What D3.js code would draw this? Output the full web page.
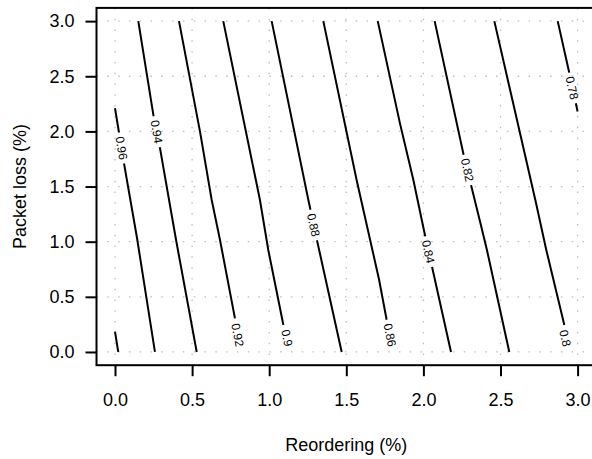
<!DOCTYPE html>
<html>
<head>
<meta charset="utf-8">
<script src="https://cdn.jsdelivr.net/npm/d3@7"></script>
<style>
  body { margin: 0; background: #fff; }
  svg { display: block; font-family: "Liberation Sans", Arial, Helvetica, sans-serif; }
</style>
</head>
<body>
<svg id="chart" width="592" height="459"></svg>
<script>
// Axis ticks
const xTicks = [0, 0.5, 1, 1.5, 2, 2.5, 3];
const yTicks = [0, 0.5, 1, 1.5, 2, 2.5, 3];

// Contour levels and their traced paths ([reordering, packet loss])
const levels = [0.98, 0.96, 0.94, 0.92, 0.9, 0.88, 0.86, 0.84, 0.82, 0.8, 0.78];
const levelText = ["0.98", "0.96", "0.94", "0.92", "0.9", "0.88", "0.86", "0.84", "0.82", "0.8", "0.78"];

const contourPaths = [
  [[0.000, 0.184], [0.021, 0.0]],
  [[0.000, 2.21], [0.060, 1.696], [0.143, 1.031], [0.259, 0.0]],
  [[0.151, 3.0], [0.249, 2.148], [0.292, 1.846], [0.396, 1.015], [0.530, 0.0]],
  [[0.415, 3.0], [0.551, 2.0], [0.627, 1.378], [0.681, 1.015], [0.778, 0.305]],
  [[0.702, 3.0], [0.940, 1.378], [0.994, 0.925], [1.092, 0.245]],
  [[1.016, 3.0], [1.254, 1.378], [1.312, 1.0], [1.470, 0.0]],
  [[1.351, 3.0], [1.567, 1.559], [1.713, 0.653], [1.762, 0.290]],
  [[1.704, 3.0], [1.848, 2.073], [1.935, 1.559], [2.010, 1.061], [2.075, 0.653], [2.179, 0.0]],
  [[2.073, 3.0], [2.261, 1.786], [2.378, 1.121], [2.412, 0.925], [2.557, 0.0]],
  [[2.460, 3.0], [2.726, 1.378], [2.797, 0.925], [2.914, 0.245]],
  [[2.871, 3.0], [2.942, 2.557], [3.0, 2.18]]
];

// Where each level's label sits (null = no label)
const labelAt = [
  null,
  [0.042, 1.849],
  [0.270, 1.997],
  [0.795, 0.154],
  [1.115, 0.127],
  [1.287, 1.151],
  [1.783, 0.154],
  [2.032, 0.909],
  [2.285, 1.650],
  [2.920, 0.124],
  [2.964, 2.393]
];

const svg = d3.select("#chart");

// R style plot region: data range padded by 4%
const xScale = d3.scaleLinear().domain([-0.12, 3.12]).range([96.5, 596.1]);
const yScale = d3.scaleLinear().domain([-0.12, 3.12]).range([365.2, 7.9]);

const x0 = xScale(-0.12), x1 = xScale(3.12);
const y0 = yScale(-0.12), y1 = yScale(3.12);

// Dotted grid
const grid = svg.append("g")
  .attr("stroke", "#bdbdbd")
  .attr("stroke-width", 1.3)
  .attr("stroke-dasharray", "1.5,9.3");

grid.selectAll("line.gx")
  .data(xTicks)
  .enter()
  .append("line")
  .attr("x1", d => xScale(d)).attr("x2", d => xScale(d))
  .attr("y1", y1).attr("y2", y0);

grid.selectAll("line.gy")
  .data(yTicks)
  .enter()
  .append("line")
  .attr("y1", d => yScale(d)).attr("y2", d => yScale(d))
  .attr("x1", x0).attr("x2", x1);

// Axes
const xAxis = svg.append("g")
  .attr("transform", `translate(0,${y0})`)
  .call(d3.axisBottom(xScale).tickValues(xTicks).tickFormat(d3.format(".1f")).tickSize(11).tickPadding(17));

const yAxis = svg.append("g")
  .attr("transform", `translate(${x0},0)`)
  .call(d3.axisLeft(yScale).tickValues(yTicks).tickFormat(d3.format(".1f")).tickSize(11).tickPadding(11));

[xAxis, yAxis].forEach(ax => {
  ax.select(".domain").remove();
  ax.selectAll(".tick line").attr("stroke", "#000").attr("stroke-width", 2);
  ax.selectAll(".tick text")
    .attr("fill", "#000")
    .style("font-size", "18px")
    .style("font-family", "'Liberation Sans', Arial, Helvetica, sans-serif");
});

// Mask that cuts a gap in each line around its label
const defs = svg.append("defs");
const mask = defs.append("mask")
  .attr("id", "labelGap")
  .attr("maskUnits", "userSpaceOnUse")
  .attr("x", 0).attr("y", 0).attr("width", 592).attr("height", 459);
mask.append("rect")
  .attr("x", 0).attr("y", 0).attr("width", 592).attr("height", 459)
  .attr("fill", "#fff");

const line = d3.line()
  .x(d => xScale(d[0]))
  .y(d => yScale(d[1]));

const contourG = svg.append("g").attr("mask", "url(#labelGap)");
contourG.selectAll("path")
  .data(contourPaths)
  .enter()
  .append("path")
  .attr("d", line)
  .attr("fill", "none")
  .attr("stroke", "#000")
  .attr("stroke-width", 2);

// Contour labels, rotated along the line
const labelG = svg.append("g");
levels.forEach((lev, i) => {
  const pos = labelAt[i];
  if (!pos) return;
  const pts = contourPaths[i];
  const a = pts[0], b = pts[pts.length - 1];
  const ang = Math.atan2(yScale(b[1]) - yScale(a[1]), xScale(b[0]) - xScale(a[0])) * 180 / Math.PI;
  const cx = xScale(pos[0]), cy = yScale(pos[1]);

  const t = labelG.append("text")
    .attr("transform", `translate(${cx},${cy}) rotate(${ang})`)
    .attr("text-anchor", "middle")
    .attr("dy", "0.35em")
    .style("font-size", "12px")
    .attr("fill", "#000")
    .text(levelText[i]);

  const len = t.node().getComputedTextLength();
  mask.append("rect")
    .attr("transform", `translate(${cx},${cy}) rotate(${ang})`)
    .attr("x", -len / 2 - 4).attr("y", -6)
    .attr("width", len + 8).attr("height", 12)
    .attr("fill", "#000");
});

// Plot box
svg.append("rect")
  .attr("x", x0).attr("y", y1)
  .attr("width", x1 - x0).attr("height", y0 - y1)
  .attr("fill", "none")
  .attr("stroke", "#000")
  .attr("stroke-width", 2);

// Axis titles
svg.append("text")
  .attr("x", xScale(1.5))
  .attr("y", 451)
  .attr("text-anchor", "middle")
  .style("font-size", "18px")
  .text("Reordering (%)");

svg.append("text")
  .attr("transform", `translate(26,${yScale(1.5)}) rotate(-90)`)
  .attr("text-anchor", "middle")
  .style("font-size", "18px")
  .text("Packet loss (%)");
</script>
</body>
</html>
